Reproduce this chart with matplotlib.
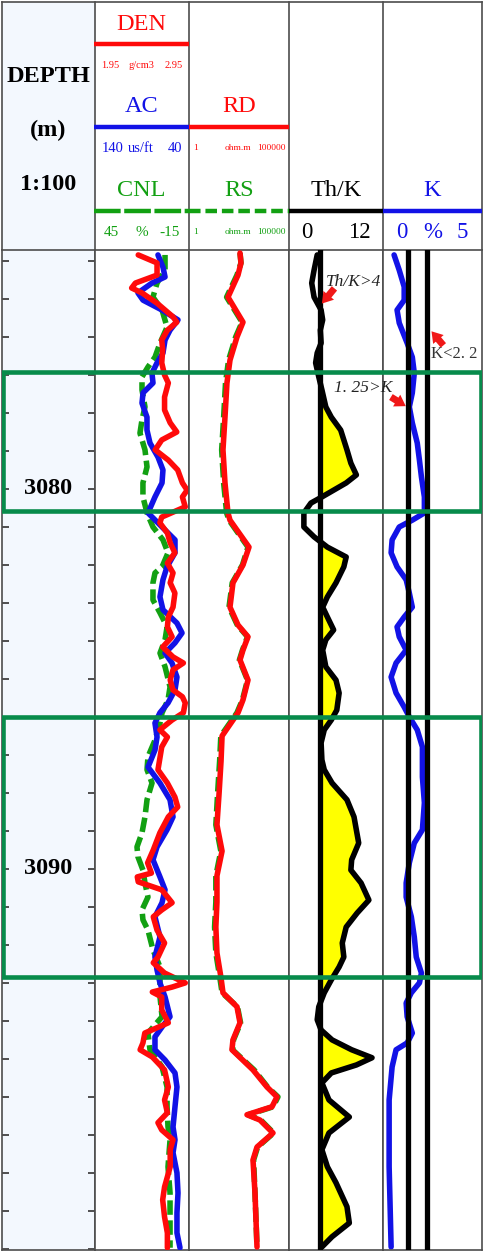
import matplotlib
matplotlib.use("Agg")
import matplotlib.pyplot as plt
from matplotlib.patches import Rectangle

plt.rcParams["font.family"] = ["Liberation Serif", "DejaVu Serif"]

FIG_W, FIG_H = 484, 1252
TOP_DEPTH, BOTTOM_DEPTH = 3073.71, 3100.03

# track edges in pixels (depth | DEN/AC/CNL | RD/RS | Th/K | K)
X_EDGES = [2, 95, 189, 289, 383, 482]
Y_HEAD = (2, 250)
Y_DATA = (250, 1250)

RED = "#FF0A0A"
BLUE = "#1212E6"
GREEN = "#12A012"
BOX = "#078B4B"
EDGE = "#4D4D4D"

# ---- log curves (depth in m) ----
den_depth = [3073.84, 3074.05, 3074.37, 3074.58, 3074.71, 3074.84, 3075.11, 3075.47, 3075.61, 3075.82,
             3076.08, 3076.34, 3076.68, 3077.00, 3077.21, 3077.58, 3077.92, 3078.26, 3078.50, 3078.71,
             3078.97, 3079.24, 3079.50, 3079.84, 3080.03, 3080.21, 3080.47, 3080.74, 3080.89, 3081.16,
             3081.42, 3081.68, 3081.95, 3082.21, 3082.47, 3082.74, 3083.11, 3083.37, 3083.63, 3083.89,
             3084.16, 3084.42, 3084.58, 3084.76, 3085.03, 3085.29, 3085.47, 3085.63, 3085.89, 3086.08,
             3086.34, 3086.53, 3086.79, 3087.39, 3087.74, 3088.11, 3088.37, 3088.63, 3089.05, 3089.50,
             3089.84, 3090.11, 3090.21, 3090.34, 3090.55, 3090.89, 3091.08, 3091.26, 3091.61, 3091.95,
             3092.32, 3092.47, 3092.74, 3093.00, 3093.11, 3093.24, 3093.37, 3093.71, 3094.05, 3094.32,
             3094.58, 3094.76, 3094.95, 3095.29, 3095.74, 3096.08, 3096.42, 3096.68, 3096.87, 3097.13,
             3097.39, 3097.84, 3098.37, 3098.71, 3099.16, 3099.58, 3099.97]
den = [2.41, 2.61, 2.61, 2.38, 2.34, 2.45, 2.61, 2.78, 2.82, 2.72,
       2.66, 2.67, 2.66, 2.69, 2.73, 2.69, 2.69, 2.75, 2.82, 2.66,
       2.59, 2.73, 2.83, 2.88, 2.93, 2.88, 2.91, 2.66, 2.64, 2.72,
       2.75, 2.80, 2.72, 2.78, 2.75, 2.80, 2.78, 2.73, 2.72, 2.77,
       2.67, 2.78, 2.89, 2.78, 2.75, 2.78, 2.88, 2.91, 2.89, 2.77,
       2.64, 2.72, 2.66, 2.62, 2.72, 2.80, 2.83, 2.73, 2.64, 2.57,
       2.51, 2.55, 2.40, 2.41, 2.66, 2.77, 2.66, 2.57, 2.61, 2.69,
       2.62, 2.57, 2.69, 2.91, 2.77, 2.56, 2.66, 2.66, 2.73, 2.48,
       2.46, 2.43, 2.56, 2.69, 2.73, 2.69, 2.72, 2.62, 2.66, 2.78,
       2.75, 2.75, 2.69, 2.67, 2.69, 2.72, 2.72]

ac_depth = [3073.84, 3074.16, 3074.42, 3074.58, 3074.84, 3075.03, 3075.29, 3075.55, 3075.82, 3076.08,
            3076.42, 3076.68, 3076.95, 3077.21, 3077.47, 3077.74, 3078.11, 3078.45, 3078.79, 3079.16,
            3079.50, 3079.84, 3080.21, 3080.63, 3081.00, 3081.34, 3081.68, 3082.05, 3082.39, 3082.84,
            3083.18, 3083.53, 3083.79, 3084.05, 3084.32, 3084.58, 3084.95, 3085.29, 3085.63, 3085.89,
            3086.16, 3086.53, 3086.87, 3087.32, 3087.74, 3088.18, 3088.63, 3088.97, 3089.42, 3089.76,
            3090.21, 3090.55, 3090.89, 3091.26, 3091.79, 3092.32, 3092.66, 3093.00, 3093.37, 3093.89,
            3094.16, 3094.42, 3094.76, 3095.03, 3095.37, 3095.74, 3096.26, 3096.79, 3097.13, 3097.47,
            3098.00, 3098.53, 3099.05, 3099.58, 3099.97]
ac = [73.0, 67.7, 65.5, 79.4, 94.3, 88.9, 68.7, 51.7, 60.2, 65.5,
      67.7, 74.0, 79.4, 78.3, 88.9, 90.0, 84.7, 84.7, 81.5, 73.0,
      67.7, 68.7, 76.2, 83.6, 68.7, 54.9, 54.9, 63.4, 67.7, 70.9,
      67.7, 52.8, 47.4, 54.9, 65.5, 58.1, 52.8, 54.9, 62.3, 70.9,
      76.2, 74.0, 76.2, 83.6, 70.9, 60.2, 57.0, 63.4, 74.0, 78.3,
      70.9, 65.5, 68.7, 76.2, 70.9, 76.2, 74.0, 70.9, 65.5, 60.2,
      68.7, 76.2, 76.2, 65.5, 54.9, 52.8, 54.9, 57.0, 54.9, 57.0,
      52.8, 51.7, 52.8, 52.8, 49.6]

cnl_depth = [3073.84, 3074.24, 3074.58, 3074.95, 3075.29, 3075.74, 3076.16, 3076.53, 3076.79, 3077.05,
             3077.39, 3077.84, 3078.18, 3078.53, 3078.97, 3079.42, 3079.84, 3080.21, 3080.63, 3081.00,
             3081.34, 3081.68, 3082.05, 3082.21, 3082.47, 3082.92, 3083.26, 3083.63, 3083.97, 3084.32,
             3084.68, 3085.21, 3085.55, 3085.89, 3086.16, 3086.61, 3087.05, 3087.39, 3087.74, 3088.18,
             3088.63, 3089.05, 3089.42, 3089.68, 3090.03, 3090.37, 3090.74, 3091.08, 3091.34, 3091.61,
             3092.13, 3092.58, 3093.00, 3093.37, 3093.89, 3094.32, 3094.76, 3095.21, 3095.74, 3096.26,
             3096.79, 3097.13, 3097.84, 3098.53, 3099.16, 3099.97]
cnl = [0.3, 0.3, 5.4, 8.0, 2.2, -1.0, 3.5, 6.7, 11.2, 15.0,
       15.0, 13.1, 15.0, 16.3, 13.1, 11.8, 14.4, 14.4, 11.8, 8.0,
       1.6, -1.6, 2.2, 6.7, 8.0, 8.0, 3.5, -1.0, 0.3, 3.5,
       0.3, -2.9, -1.6, 2.2, 3.5, 6.7, 11.2, 11.8, 8.6, 11.8,
       13.1, 15.0, 18.2, 17.6, 14.4, 13.1, 11.2, 15.0, 14.4, 11.2,
       8.0, 3.5, 3.5, 3.5, 2.2, 11.2, 9.9, 2.2, -1.0, -1.0,
       -1.6, -2.9, -1.6, -2.9, -2.9, -2.9]

rd_depth = [3073.79, 3074.05, 3074.37, 3074.95, 3075.61, 3076.00, 3076.61, 3077.21, 3078.11, 3078.97,
            3079.84, 3080.63, 3080.82, 3081.53, 3082.00, 3082.47, 3083.11, 3083.58, 3083.89, 3084.24,
            3084.50, 3085.03, 3085.55, 3085.89, 3086.50, 3087.16, 3088.00, 3088.84, 3089.53, 3090.18,
            3090.87, 3091.53, 3092.21, 3092.87, 3093.26, 3093.63, 3094.05, 3094.50, 3094.76, 3095.29,
            3095.74, 3096.00, 3096.26, 3096.47, 3096.61, 3096.95, 3097.32, 3097.66, 3098.53, 3099.95]
rd = [355, 398, 282, 89, 501, 251, 112, 79, 63, 50,
      63, 89, 112, 1000, 501, 158, 112, 282, 891, 501,
      355, 891, 501, 282, 45, 40, 32, 25, 45, 25,
      25, 22, 25, 40, 50, 251, 355, 158, 141, 1585,
      7943, 25119, 14125, 794, 3548, 15849, 2512, 1585, 1995, 2512]

rs_depth = [3073.79, 3074.05, 3074.37, 3074.95, 3075.61, 3076.00, 3076.61, 3077.21, 3078.11, 3078.97,
            3079.84, 3080.63, 3080.82, 3081.53, 3082.00, 3082.47, 3083.11, 3083.58, 3083.89, 3084.24,
            3084.50, 3085.03, 3085.55, 3085.89, 3086.50, 3087.16, 3088.00, 3088.84, 3089.53, 3090.18,
            3090.87, 3091.53, 3092.21, 3092.87, 3093.26, 3093.63, 3094.05, 3094.50, 3094.76, 3095.29,
            3095.74, 3096.00, 3096.26, 3096.47, 3096.61, 3096.95, 3097.32, 3097.66, 3098.53, 3099.95]
rs = [355, 398, 250, 76, 450, 215, 95, 67, 54, 43,
      54, 76, 100, 891, 470, 145, 100, 260, 840, 470,
      330, 840, 470, 250, 39, 34, 27, 22, 39, 22,
      22, 19, 22, 35, 45, 265, 380, 168, 150, 1800,
      8500, 28000, 16000, 900, 3900, 17000, 2700, 1700, 1995, 2512]

thk_depth = [3073.84, 3074.24, 3074.58, 3074.95, 3075.29, 3075.55, 3075.82, 3076.16, 3076.42, 3076.68,
             3077.05, 3077.39, 3077.84, 3078.11, 3078.45, 3078.97, 3079.32, 3079.63, 3079.84, 3080.21,
             3080.37, 3080.63, 3081.00, 3081.26, 3081.53, 3081.79, 3082.05, 3082.47, 3082.84, 3083.11,
             3083.37, 3083.71, 3083.97, 3084.24, 3084.68, 3085.03, 3085.37, 3085.82, 3086.08, 3086.34,
             3086.68, 3087.13, 3087.39, 3087.74, 3088.18, 3088.63, 3089.32, 3089.76, 3090.03, 3090.37,
             3090.82, 3091.16, 3091.53, 3091.95, 3092.32, 3092.58, 3092.92, 3093.26, 3093.63, 3093.97,
             3094.24, 3094.50, 3094.76, 3094.97, 3095.16, 3095.37, 3095.63, 3096.08, 3096.53, 3096.95,
             3097.39, 3097.84, 3098.26, 3098.89, 3099.32, 3099.68, 3099.95]
thk = [3.6, 3.2, 2.9, 3.2, 4.1, 4.3, 4.0, 4.1, 3.6, 3.4,
       3.8, 4.2, 4.7, 5.4, 6.6, 7.4, 7.9, 8.6, 7.3, 4.2,
       2.8, 1.9, 1.9, 3.2, 4.9, 7.3, 7.0, 6.0, 4.9, 4.3,
       4.9, 5.7, 4.7, 4.3, 4.7, 6.0, 6.4, 6.1, 5.4, 4.5,
       4.1, 4.2, 4.5, 5.5, 7.4, 8.3, 8.9, 8.0, 7.9, 9.2,
       10.2, 8.7, 7.3, 6.8, 7.0, 6.4, 5.4, 4.5, 3.8, 3.6,
       4.1, 5.5, 8.0, 10.6, 8.6, 5.4, 4.2, 5.1, 7.7, 5.1,
       4.2, 4.9, 6.0, 7.4, 7.7, 5.5, 4.2]

k_depth = [3073.84, 3074.24, 3074.68, 3075.03, 3075.29, 3075.63, 3076.16, 3076.53, 3076.95, 3077.47,
           3077.84, 3078.26, 3078.79, 3079.24, 3079.68, 3080.21, 3080.63, 3080.82, 3081.00, 3081.34,
           3081.68, 3082.05, 3082.39, 3082.74, 3083.11, 3083.37, 3083.63, 3083.89, 3084.24, 3084.58,
           3084.95, 3085.37, 3085.74, 3086.00, 3086.34, 3086.79, 3087.58, 3088.26, 3088.97, 3089.32,
           3089.84, 3090.37, 3090.74, 3091.26, 3091.79, 3092.32, 3092.74, 3093.00, 3093.26, 3093.53,
           3093.89, 3094.32, 3094.58, 3094.76, 3095.21, 3096.08, 3097.84, 3099.95]
k = [0.56, 0.82, 1.07, 1.07, 0.71, 0.82, 1.22, 1.48, 1.58, 1.48,
     1.33, 1.48, 1.73, 1.84, 1.94, 2.09, 2.09, 1.48, 0.82, 0.46,
     0.41, 0.71, 1.17, 1.33, 1.48, 1.07, 0.71, 0.82, 1.17, 0.66,
     0.41, 0.66, 1.07, 1.33, 1.73, 1.99, 1.99, 2.09, 1.99, 1.58,
     1.33, 1.17, 1.17, 1.43, 1.58, 1.68, 1.94, 1.84, 1.43, 1.17,
     1.22, 1.48, 1.22, 0.66, 0.46, 0.31, 0.31, 0.41]

# interpreted zones (green boxes) and cutoffs
zone_top = [3076.92, 3086.00]
zone_bottom = [3080.58, 3092.85]
THK_CUT = 4.0
K_CUTS = [1.25, 2.2]

depth_ticks = list(range(3074, 3101))
depth_labels = [3080, 3090]

CURVE_LW = 4.0


def add_track(fig, x0, x1, xlim, log=False, overlay=False):
    ax = fig.add_axes([x0 / FIG_W, (FIG_H - Y_DATA[1]) / FIG_H,
                       (x1 - x0) / FIG_W, (Y_DATA[1] - Y_DATA[0]) / FIG_H])
    if log:
        ax.set_xscale("log")
    ax.set_xlim(*xlim)
    ax.set_ylim(BOTTOM_DEPTH, TOP_DEPTH)
    ax.tick_params(which="both", bottom=False, top=False, left=False, right=False,
                   labelbottom=False, labelleft=False)
    if overlay:
        ax.patch.set_alpha(0)
        for s in ax.spines.values():
            s.set_visible(False)
    else:
        for s in ax.spines.values():
            s.set_color(EDGE)
            s.set_linewidth(1.2)
    return ax


def curve(ax, x, y, color, dashed=False, z=2):
    kw = dict(color=color, lw=CURVE_LW, solid_joinstyle="round", solid_capstyle="round", zorder=z)
    if dashed:
        kw.update(dashes=(2.6, 1.0), dash_capstyle="butt")
    ax.plot(x, y, **kw)


fig = plt.figure(figsize=(FIG_W / 100, FIG_H / 100), dpi=100)

# ---- header ----
hx = fig.add_axes([0, (FIG_H - Y_HEAD[1]) / FIG_H, 1, Y_HEAD[1] / FIG_H])
hx.set_xlim(0, FIG_W)
hx.set_ylim(Y_HEAD[1], 0)
hx.axis("off")
hx.add_patch(Rectangle((X_EDGES[0], Y_HEAD[0]), X_EDGES[1] - X_EDGES[0], Y_HEAD[1] - Y_HEAD[0],
                       facecolor="#F3F8FE", edgecolor="none"))
for xe in X_EDGES:
    hx.plot([xe, xe], [Y_HEAD[0], Y_HEAD[1]], color=EDGE, lw=1.2)
hx.plot([X_EDGES[0], X_EDGES[-1]], [Y_HEAD[0], Y_HEAD[0]], color=EDGE, lw=1.2)

for txt, yy in [("DEPTH", 76), ("(m)", 130), ("1:100", 185)]:
    hx.text(48, yy, txt, ha="center", va="center", fontsize=17.5, fontweight="bold")


def head_curve(x0, x1, y, name, color, scale, scale_size, dashes=None):
    hx.text((x0 + x1) / 2, y - 20, name, ha="center", va="center", fontsize=17.5, color=color)
    kw = dict(color=color, lw=3.2, solid_capstyle="butt")
    if dashes:
        kw.update(dashes=dashes, dash_capstyle="butt")
    hx.plot([x0, x1], [y, y], **kw)
    for sx, st in scale:
        hx.text(sx, y + 21, st, ha="center", va="center", fontsize=scale_size, color=color)


head_curve(94, 189, 44, "DEN", RED, [(110, "1.95"), (141, "g/cm3"), (174, "2.95")], 7.5)
head_curve(94, 189, 127, "AC", BLUE, [(113, "140"), (141, "us/ft"), (175, "40")], 10.5)
head_curve(189, 289, 127, "RD", RED, [(196, "1"), (238, "ohm.m"), (271, "100000")], 6.8)
head_curve(94, 189, 211, "CNL", GREEN, [(111, "45"), (142, "%"), (170, "-15")], 11,
           dashes=(6.0, 0.8))
head_curve(189, 289, 211, "RS", GREEN, [(196, "1"), (238, "ohm.m"), (271, "100000")], 6.8,
           dashes=(2.6, 1.1))
head_curve(289, 383, 211, "Th/K", "black", [(307, "0"), (359, "12")], 16.5)
head_curve(383, 482, 211, "K", BLUE, [(402, "0"), (433, "%"), (462, "5")], 16.5)

# ---- depth track ----
axd = add_track(fig, X_EDGES[0], X_EDGES[1], (0, 1))
axd.set_facecolor("#F3F8FE")
axd.set_yticks(depth_ticks)
axd.tick_params(axis="y", direction="in", left=True, right=True, length=5, width=1.2,
                color="#333333", labelleft=False)
for d in depth_labels:
    axd.text(0.5, d, str(d), ha="center", va="center", fontsize=17.5, fontweight="bold")

# ---- track 1: CNL / AC / DEN ----
ax_cnl = add_track(fig, X_EDGES[1], X_EDGES[2], (45, -15))
ax_ac = add_track(fig, X_EDGES[1], X_EDGES[2], (140, 40), overlay=True)
ax_den = add_track(fig, X_EDGES[1], X_EDGES[2], (1.95, 2.95), overlay=True)
curve(ax_cnl, cnl, cnl_depth, GREEN, dashed=True)
curve(ax_ac, ac, ac_depth, BLUE)
curve(ax_den, den, den_depth, RED)

# ---- track 2: RS / RD ----
ax_rs = add_track(fig, X_EDGES[2], X_EDGES[3], (1, 1e5), log=True)
ax_rd = add_track(fig, X_EDGES[2], X_EDGES[3], (1, 1e5), log=True, overlay=True)
curve(ax_rs, rs, rs_depth, GREEN, dashed=True)
curve(ax_rd, rd, rd_depth, RED)

# ---- track 3: Th/K ----
ax_thk = add_track(fig, X_EDGES[3], X_EDGES[4], (0, 12))
ax_thk.fill_betweenx(thk_depth, THK_CUT, thk, where=[v > THK_CUT for v in thk],
                     interpolate=True, color="#FFFF00", lw=0, zorder=1)
curve(ax_thk, thk, thk_depth, "black")
ax_thk.axvline(THK_CUT, color="black", lw=3.8, zorder=3)

# ---- track 4: K ----
ax_k = add_track(fig, X_EDGES[4], X_EDGES[5], (0, 5))
curve(ax_k, k, k_depth, BLUE)
for c in K_CUTS:
    ax_k.axvline(c, color="black", lw=3.8, zorder=3)

# ---- annotations ----
arrow = dict(arrowstyle="simple,head_width=0.9,head_length=0.7,tail_width=0.45",
             color="#F01818", lw=0, mutation_scale=11, shrinkA=0, shrinkB=0)
ax_thk.text(8.3, 3074.55, "Th/K>4", ha="center", va="center", fontsize=12.5,
            style="italic", color="#222222", clip_on=False, zorder=6)
ax_thk.annotate("", xy=(4.2, 3075.12), xytext=(5.8, 3074.72), arrowprops=arrow, zorder=6)
ax_k.text(3.6, 3076.45, "K<2. 2", ha="center", va="center", fontsize=12,
          color="#333333", clip_on=False, zorder=6)
ax_k.annotate("", xy=(2.45, 3075.85), xytext=(3.05, 3076.22), arrowprops=arrow, zorder=6)
ax_k.text(-1.0, 3077.34, "1. 25>K", ha="center", va="center", fontsize=12.5,
          style="italic", color="#222222", clip_on=False, zorder=6)
ax_k.annotate("", xy=(1.15, 3077.82), xytext=(0.4, 3077.58), arrowprops=arrow, zorder=6)

# ---- interpreted zones on top ----
axz = add_track(fig, X_EDGES[0], X_EDGES[5], (0, 1), overlay=True)
for zt, zb in zip(zone_top, zone_bottom):
    axz.add_patch(Rectangle((0.003, zt), 0.994, zb - zt, fill=False,
                            edgecolor=BOX, lw=3.3, zorder=5))

fig.savefig("out.png", dpi=100)
